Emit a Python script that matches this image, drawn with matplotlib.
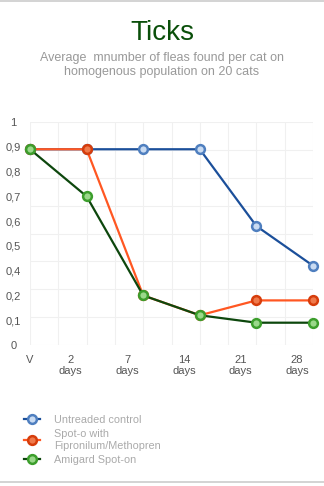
import numpy as np
import matplotlib
matplotlib.use("Agg")
import matplotlib.pyplot as plt
from matplotlib.lines import Line2D

plt.rcParams['font.family'] = ['Liberation Sans', 'DejaVu Sans']

# data (values read on the chart's own y labels)
x_labels = ["V", "2\ndays", "7\ndays", "14\ndays", "21\ndays", "28\ndays"]
untreated = [0.89, 0.89, 0.89, 0.89, 0.58, 0.42]
fipronil = [0.89, 0.89, 0.2, 0.12, 0.18, 0.18]
amigard = [0.89, 0.7, 0.2, 0.12, 0.09, 0.09]
series_names = ["Untreaded control", "Spot-o with\nFipronilum/Methopren", "Amigard Spot-on"]

# the y axis labels are evenly spaced but skip 0.3
y_label_vals = [0, 0.1, 0.2, 0.4, 0.5, 0.6, 0.7, 0.8, 0.9, 1.0]
y_label_pos = np.arange(len(y_label_vals))


def forward(v):
    return np.interp(v, y_label_vals, y_label_pos)


def inverse(p):
    return np.interp(p, y_label_pos, y_label_vals)


styles = [
    dict(color="#1b4f9a", mec="#4f7fbf", mfc="#c9dbf2"),
    dict(color="#ff5722", mec="#d63d0c", mfc="#ef7a4c"),
    dict(color="#0d470d", mec="#3c9e2c", mfc="#9ad88a"),
]

fig = plt.figure(figsize=(3.24, 4.86), dpi=100)
ax = fig.add_axes([30 / 324, 1 - 345 / 486, 283 / 324, 223 / 486])
ax.set_yscale('function', functions=(forward, inverse))

xs = np.arange(len(x_labels))
handles = []
for vals, st in zip([untreated, fipronil, amigard], styles):
    ax.plot(xs, vals, color=st["color"], lw=1.6, marker="o", ms=6.3,
            mec=st["mec"], mfc=st["mfc"], mew=1.8, clip_on=False, zorder=3)
    handles.append(Line2D([], [], color=st["color"], lw=1.6, marker="o", ms=6.3,
                          mec=st["mec"], mfc=st["mfc"], mew=1.8))

ax.set_xlim(0, 5)
ax.set_ylim(0, 1)

# grid: square faint grid
for gx in np.arange(0, 5.01, 0.5):
    ax.axvline(gx, color="#f0f0f0", lw=0.8, zorder=0)
for gy in np.linspace(0, 1, 9):
    ax.plot([0, 1], [gy, gy], transform=ax.transAxes, color="#f0f0f0", lw=0.8, zorder=0)

ax.set_yticks(y_label_vals)
ax.set_yticklabels([("%g" % v).replace(".", ",") for v in y_label_vals])
ax.set_xticks([0] + [i - 0.28 for i in range(1, 6)])
ax.set_xticklabels(x_labels, va="top", linespacing=1.1)
ax.tick_params(axis="y", length=0, pad=12, labelsize=8, labelcolor="#555555")
for lbl in ax.get_yticklabels():
    lbl.set_horizontalalignment("center")
ax.tick_params(axis="x", length=0, pad=7, labelsize=8, labelcolor="#555555")
for s in ax.spines.values():
    s.set_visible(False)

fig.text(0.5, 1 - 33 / 486, "Ticks", fontsize=20, color="#0a4f0a", ha="center", va="center")
fig.text(0.5, 1 - 65 / 486, "Average  mnumber of fleas found per cat on\nhomogenous population on 20 cats",
         fontsize=9, color="#999999", ha="center", va="center", linespacing=1.3)

leg = fig.legend(handles, series_names, loc="upper left", bbox_to_anchor=(14 / 324, 1 - 405 / 486),
                 frameon=False, fontsize=7.8, handlelength=1.5, handletextpad=1.3,
                 labelspacing=0.4)
for t in leg.get_texts():
    t.set_color("#aaaaaa")

fig.add_artist(Line2D([0, 1], [1 - 1 / 486, 1 - 1 / 486], transform=fig.transFigure, color="#cccccc", lw=1.2))
fig.add_artist(Line2D([0, 1], [4 / 486, 4 / 486], transform=fig.transFigure, color="#cccccc", lw=1.2))

fig.savefig("out.png", dpi=100)
